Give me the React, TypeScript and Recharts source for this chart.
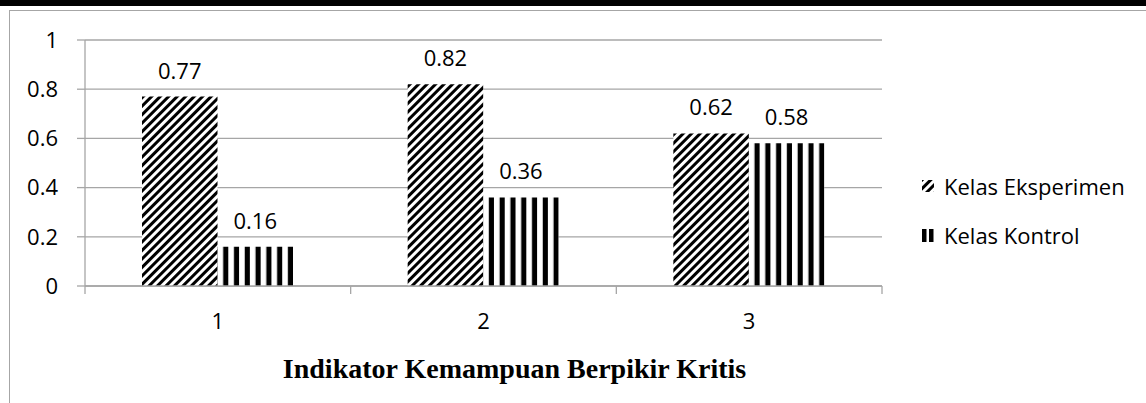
import React from "react";
import { BarChart, Bar, XAxis, YAxis, CartesianGrid, Legend, LabelList } from "recharts";

const categories = ["1", "2", "3"];
const eksperimen = [0.77, 0.82, 0.62];
const kontrol = [0.16, 0.36, 0.58];
const yTicks = [0, 0.2, 0.4, 0.6, 0.8, 1];
const seriesNames = ["Kelas Eksperimen", "Kelas Kontrol"];
const axisTitle = "Indikator Kemampuan Berpikir Kritis";

const data = categories.map((c, i) => ({
  name: c,
  eksperimen: eksperimen[i],
  kontrol: kontrol[i],
}));

const W = 1146;
const H = 403;
const MARGIN = { top: 40, right: 264, bottom: 0, left: 0 };
const Y_WIDTH = 85;
const X_HEIGHT = 117;
const BAND = (W - MARGIN.right - Y_WIDTH) / categories.length;
const GRID = "#a6a6a6";
const FONT = "'Open Sans', sans-serif";

const CategoryTick = (props: any) => {
  const { x, y, payload, index } = props;
  const top = y - 8;
  return (
    <g>
      <line x1={x - BAND / 2} x2={x - BAND / 2} y1={top} y2={top + 8} stroke={GRID} strokeWidth={1.3} />
      {index === categories.length - 1 && (
        <line x1={x + BAND / 2} x2={x + BAND / 2} y1={top} y2={top + 8} stroke={GRID} strokeWidth={1.3} />
      )}
      <text x={x} y={top + 43} textAnchor="middle" fill="#000" fontSize={22} fontFamily={FONT}>
        {payload.value}
      </text>
    </g>
  );
};

const TitleLabel = (props: any) => {
  const { viewBox } = props;
  return (
    <text
      x={viewBox.x + viewBox.width / 2 + 31}
      y={viewBox.y + 92}
      textAnchor="middle"
      fill="#000"
      fontSize={28}
      fontWeight="bold"
      fontFamily="'Liberation Serif', 'Times New Roman', serif"
    >
      {axisTitle}
    </text>
  );
};

const renderLegend = () => (
  <div style={{ fontFamily: FONT, fontSize: 22, color: "#000", whiteSpace: "nowrap", width: 225 }}>
    <div style={{ display: "flex", alignItems: "center", height: 30, marginBottom: 19 }}>
      <svg width={14} height={14} style={{ marginRight: 9 }}>
        <rect x={1} y={1} width={12} height={12} fill="url(#hatchDiag)" />
      </svg>
      <span>{seriesNames[0]}</span>
    </div>
    <div style={{ display: "flex", alignItems: "center", height: 30 }}>
      <svg width={14} height={14} style={{ marginRight: 9 }}>
        <rect x={1} y={1} width={4.5} height={13} fill="#000" />
        <rect x={8} y={1} width={4.5} height={13} fill="#000" />
      </svg>
      <span>{seriesNames[1]}</span>
    </div>
  </div>
);

export default function App() {
  return (
    <div style={{ position: "absolute", left: 0, top: 0, width: W, height: H, background: "#fff", overflow: "hidden" }}>
      <div style={{ position: "absolute", left: 0, top: 0, width: W, height: 6, background: "#000" }} />
      <div
        style={{
          position: "absolute",
          left: 9,
          top: 10,
          width: W,
          height: H,
          borderLeft: `1.5px solid ${GRID}`,
          borderTop: `1.5px solid ${GRID}`,
        }}
      />
      <div style={{ position: "absolute", left: 0, top: 0 }}>
        <BarChart width={W} height={H} data={data} margin={MARGIN} barSize={75.5} barGap={0}>
          <defs>
            <pattern id="hatchDiag" patternUnits="userSpaceOnUse" width={6} height={6} patternTransform="rotate(45)">
              <rect x={0} y={0} width={6} height={6} fill="#fff" />
              <rect x={0} y={0} width={3} height={6} fill="#000" />
            </pattern>
            <pattern id="stripesV" patternUnits="objectBoundingBox" width={1 / 7} height={1} patternContentUnits="objectBoundingBox">
              <rect x={0} y={0} width={1 / 7} height={1} fill="#fff" />
              <rect x={0.075} y={0} width={0.068} height={1} fill="#000" />
            </pattern>
          </defs>
          <CartesianGrid horizontal vertical={false} stroke={GRID} strokeWidth={1.3} />
          <XAxis
            dataKey="name"
            height={X_HEIGHT}
            axisLine={{ stroke: GRID, strokeWidth: 1.3 }}
            tickLine={false}
            tick={<CategoryTick />}
            interval={0}
            label={<TitleLabel />}
          />
          <YAxis
            width={Y_WIDTH}
            domain={[0, 1]}
            ticks={yTicks}
            interval={0}
            axisLine={{ stroke: GRID, strokeWidth: 1.3 }}
            tickLine={{ stroke: GRID, strokeWidth: 1.3 }}
            tickSize={8}
            tickMargin={19}
            tick={{ fill: "#000", fontSize: 22, fontFamily: FONT }}
          />
          <Legend
            layout="vertical"
            align="right"
            verticalAlign="middle"
            content={renderLegend}
            wrapperStyle={{ left: 921, top: 171, width: 0, height: 0, overflow: "visible" }}
          />
          <Bar dataKey="eksperimen" name={seriesNames[0]} fill="url(#hatchDiag)" isAnimationActive={false}>
            <LabelList dataKey="eksperimen" position="top" offset={18} fill="#000" fontSize={22} fontFamily={FONT} />
          </Bar>
          <Bar dataKey="kontrol" name={seriesNames[1]} fill="url(#stripesV)" isAnimationActive={false}>
            <LabelList dataKey="kontrol" position="top" offset={18} fill="#000" fontSize={22} fontFamily={FONT} />
          </Bar>
        </BarChart>
      </div>
    </div>
  );
}
